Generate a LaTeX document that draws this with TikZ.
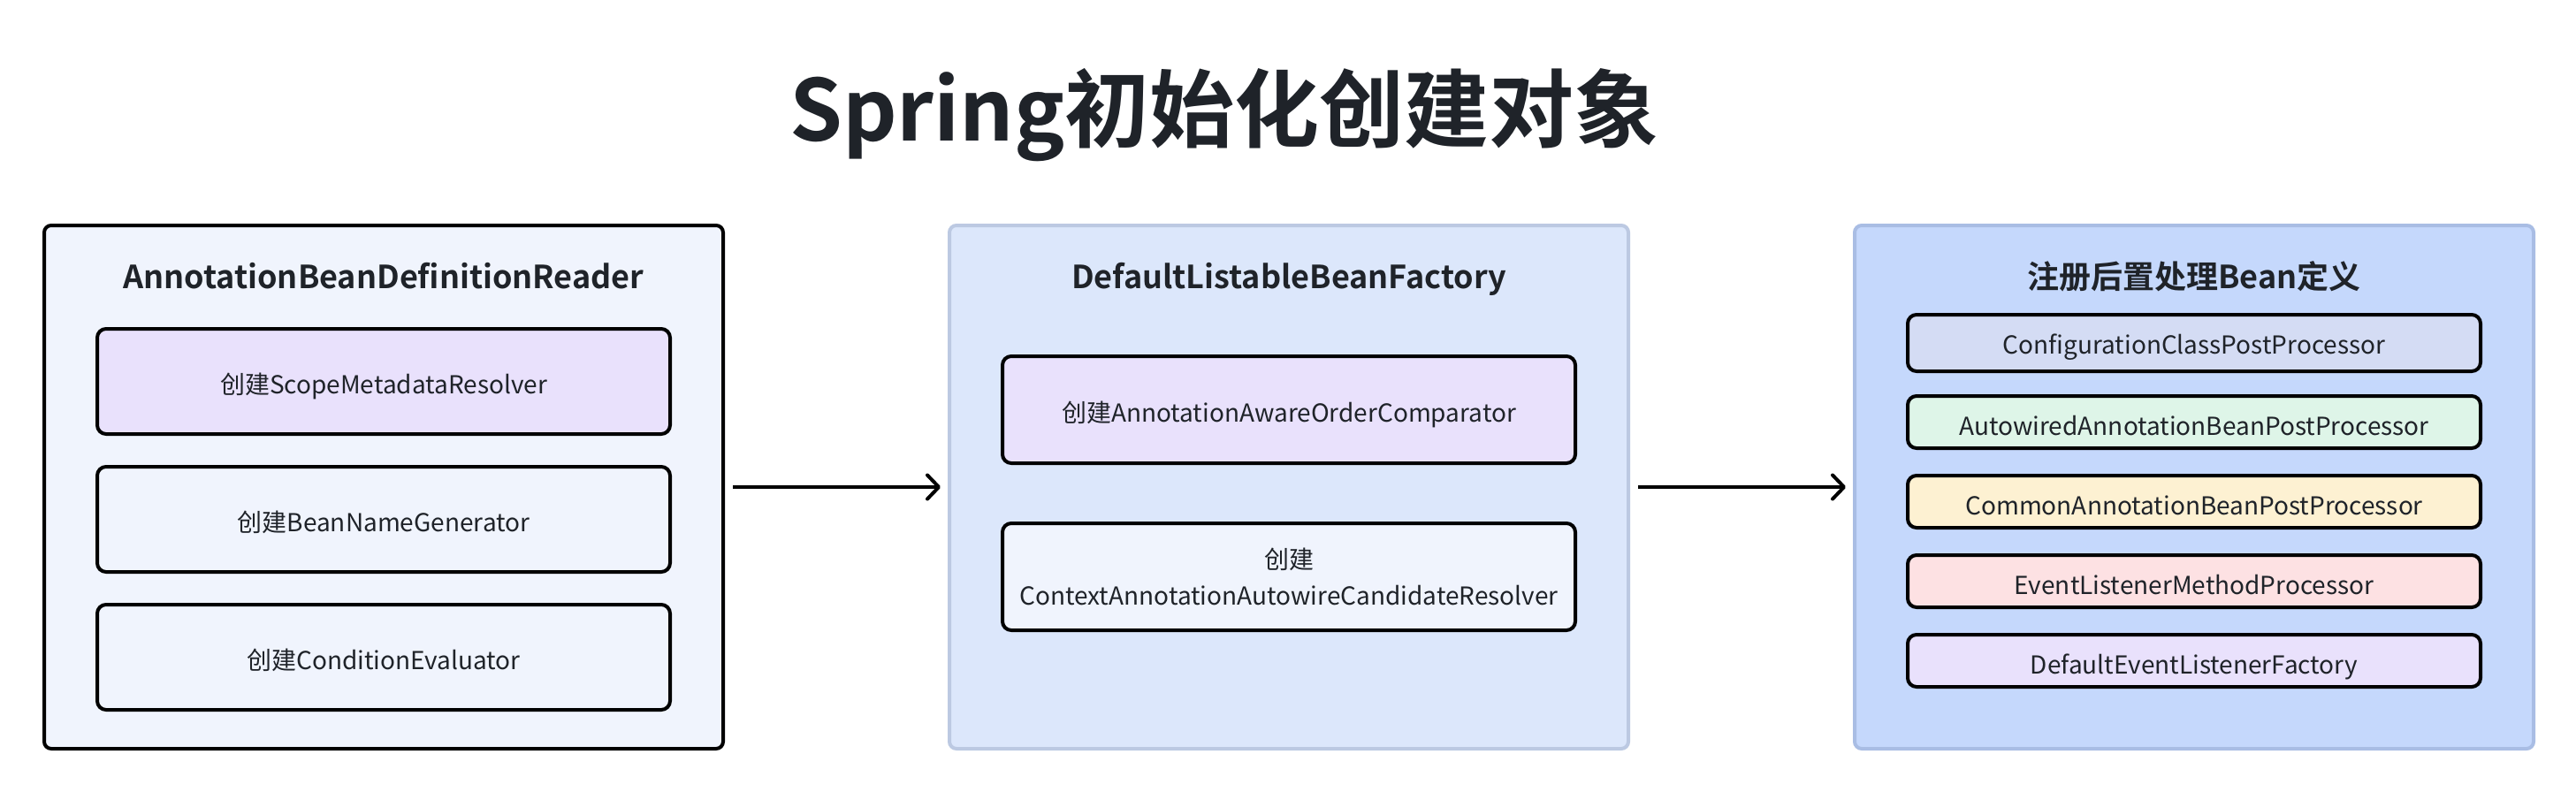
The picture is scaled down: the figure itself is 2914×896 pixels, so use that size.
\documentclass[tikz,border=0pt]{standalone}
\usepackage{fontspec}
\setmainfont{Noto Sans CJK SC}[BoldFont={Noto Sans CJK SC Bold}]
\usetikzlibrary{arrows.meta}
\definecolor{ink}{HTML}{1F2329}
\definecolor{paleblue}{HTML}{F0F4FD}
\definecolor{lavender}{HTML}{E9E1FC}
\definecolor{midfill}{HTML}{DCE7FB}
\definecolor{midline}{HTML}{BCC9E2}
\definecolor{rightfill}{HTML}{C5D8FC}
\definecolor{rightline}{HTML}{A9BDE4}
\definecolor{cfgfill}{HTML}{D4DCF4}
\definecolor{greenfill}{HTML}{DEF5E8}
\definecolor{yellowfill}{HTML}{FDF1D2}
\definecolor{pinkfill}{HTML}{FDE1E3}
\begin{document}
\begin{tikzpicture}[x=1pt,y=-1pt,
  outerbox/.style={rectangle, rounded corners=8pt, inner sep=0pt, minimum width=768pt, minimum height=592pt},
  innerbox/.style={rectangle, rounded corners=10pt, draw=black, line width=4pt, inner sep=0pt, minimum width=648pt, text=ink, font=\fontsize{28}{41}\selectfont, align=center},
  oneline/.style={text height=27pt, text depth=0pt},
  smallbox/.style={innerbox, minimum height=59pt, text height=30pt, text depth=0pt},
  paneltitle/.style={text=ink, font=\fontsize{36}{44}\selectfont\bfseries, inner sep=0pt, text height=27pt, text depth=0pt},
  flow/.style={draw=black, line width=4pt, -{Straight Barb[length=13pt,width=27pt,line width=4pt,round]}}
]
\useasboundingbox (0,0) rectangle (2914,896);
\fill[white] (0,0) rectangle (2914,896);

\node[text=ink, font=\fontsize{96}{110}\selectfont\bfseries, inner sep=0pt, text height=80pt, text depth=0pt] (title) at (1385,120) {Spring初始化创建对象};

% left panel
\node[outerbox, draw=black, line width=4pt, fill=paleblue] (reader) at (434,551) {};
\node[paneltitle] (readertitle) at (434,312.5) {AnnotationBeanDefinitionReader};
\node[innerbox, oneline, fill=lavender, minimum height=119pt] (scope) at (434,431.5) {创建ScopeMetadataResolver};
\node[innerbox, oneline, fill=paleblue, minimum height=119pt] (namegen) at (434,587.5) {创建BeanNameGenerator};
\node[innerbox, oneline, fill=paleblue, minimum height=119pt] (cond) at (434,743.5) {创建ConditionEvaluator};

% middle panel
\node[outerbox, draw=midline, line width=4pt, fill=midfill] (factory) at (1458,551) {};
\node[paneltitle] (factorytitle) at (1458,312.5) {DefaultListableBeanFactory};
\node[innerbox, oneline, fill=lavender, minimum height=121pt] (comparator) at (1458,463.5) {创建AnnotationAwareOrderComparator};
\node[innerbox, fill=paleblue, minimum height=121pt] (resolver) at (1458,652.5) {创建\\ContextAnnotationAutowireCandidateResolver};

% right panel
\node[outerbox, draw=rightline, line width=4pt, fill=rightfill] (register) at (2482,551) {};
\node[paneltitle] (registertitle) at (2482,312.5) {注册后置处理Bean定义};
\node[smallbox, fill=cfgfill, minimum height=64pt, text height=25pt] (cfg) at (2482,388) {ConfigurationClassPostProcessor};
\node[smallbox, fill=greenfill] (autowired) at (2482,477.5) {AutowiredAnnotationBeanPostProcessor};
\node[smallbox, fill=yellowfill] (common) at (2482,567.5) {CommonAnnotationBeanPostProcessor};
\node[smallbox, fill=pinkfill] (event) at (2482,657.5) {EventListenerMethodProcessor};
\node[smallbox, fill=lavender] (listener) at (2482,747.5) {DefaultEventListenerFactory};

% connectors
\draw[flow, shorten <=9pt, shorten >=8pt] (reader.east) -- (factory.west);
\draw[flow, shorten <=9pt, shorten >=8pt] (factory.east) -- (register.west);
\end{tikzpicture}
\end{document}
